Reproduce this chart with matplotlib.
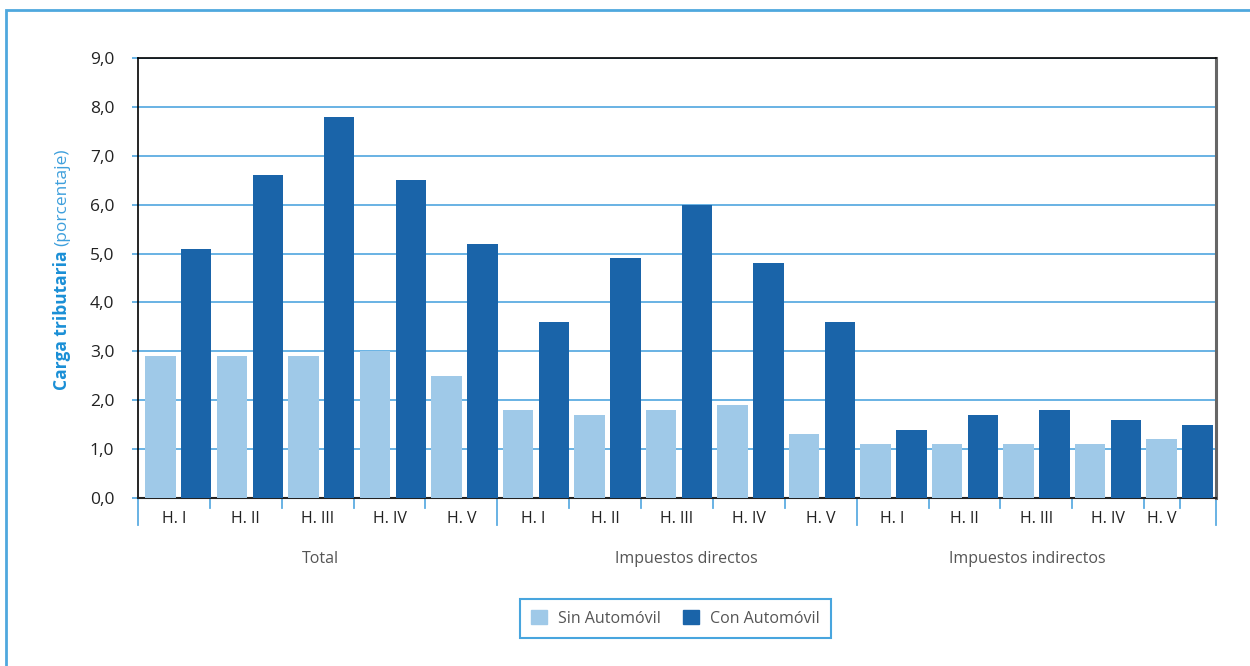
import matplotlib
matplotlib.use("Agg")

import numpy as np
import matplotlib.pyplot as plt
from matplotlib.patches import Rectangle, Patch

plt.rcParams['font.family'] = ['Open Sans', 'DejaVu Sans']

# datos
grupos = ['Total', 'Impuestos directos', 'Impuestos indirectos']
hogares = ['H. I', 'H. II', 'H. III', 'H. IV', 'H. V']
sin_auto = [2.9, 2.9, 2.9, 3.0, 2.5,
            1.8, 1.7, 1.8, 1.9, 1.3,
            1.1, 1.1, 1.1, 1.1, 1.2]
con_auto = [5.1, 6.6, 7.8, 6.5, 5.2,
            3.6, 4.9, 6.0, 4.8, 3.6,
            1.4, 1.7, 1.8, 1.6, 1.5]
y_ticks = [0, 1, 2, 3, 4, 5, 6, 7, 8, 9]

c_sin = '#9FC9E8'
c_con = '#1A64A9'
c_grid = '#5DADE2'
c_azul = '#1A8FD6'

fig = plt.figure(figsize=(12.5, 6.66), dpi=100)
ax = fig.add_axes([138 / 1250, 1 - 498 / 666, (1216 - 138) / 1250, (498 - 58) / 666])

# marco exterior
fig.patches.append(Rectangle((6 / 1250, -0.05), 1.1, 1 - 10 / 666 + 0.05,
                             transform=fig.transFigure, fill=False,
                             edgecolor='#4FA8DE', linewidth=2, zorder=0))

n = len(sin_auto)
x_sin = np.arange(n) * 2
x_con = x_sin + 1
ancho = 0.85
ax.bar(x_sin, sin_auto, width=ancho, color=c_sin, zorder=3)
ax.bar(x_con, con_auto, width=ancho, color=c_con, zorder=3)

ax.set_xlim(-0.63, 29.52)
ax.set_ylim(0, 9)
ax.set_yticks(y_ticks)
ax.set_yticklabels([f'{v:.1f}'.replace('.', ',') for v in y_ticks], fontsize=12.5, color='#222222')
ax.yaxis.grid(True, color=c_grid, linewidth=1.3, zorder=0)
ax.tick_params(axis='y', length=4, color=c_grid, width=1.3, pad=13)
ax.set_xticks([])

for lado in ['left', 'top']:
    ax.spines[lado].set_color('black')
    ax.spines[lado].set_linewidth(1.2)
ax.spines['bottom'].set_color('#222222')
ax.spines['bottom'].set_linewidth(1.5)
ax.spines['right'].set_color('#666666')
ax.spines['right'].set_linewidth(2.2)

# eje de categorias (dos niveles)
dy_corto = 10 / 440
dy_largo = 27 / 440
pos_ticks = [g / 15 for g in range(16)] + [14.5 / 15]
for i, p in enumerate(pos_ticks):
    largo = i in (0, 5, 10, 15)
    ax.plot([p, p], [0, -(dy_largo if largo else dy_corto)], transform=ax.transAxes,
            color=c_grid, linewidth=1.3, clip_on=False, zorder=1)

for g in range(15):
    centro = (g + 0.5) / 15 if g < 14 else 14.25 / 15
    ax.text(centro, -21 / 440, hogares[g % 5], transform=ax.transAxes,
            ha='center', va='center', fontsize=11.5, color='#222222')

pos_grupos = [(320 - 138) / 1078, (686 - 138) / 1078, (1027 - 138) / 1078]
for nombre, p in zip(grupos, pos_grupos):
    ax.text(p, -61 / 440, nombre, transform=ax.transAxes,
            ha='center', va='center', fontsize=11.5, color='#555555')

# titulo del eje y en dos partes
t1 = fig.text(62 / 1250, 1 - 390 / 666, 'Carga tributaria', rotation=90,
              rotation_mode='anchor', ha='left', va='center',
              fontsize=12.5, fontweight='bold', color=c_azul)
fig.canvas.draw()
bb = t1.get_window_extent(fig.canvas.get_renderer())
t2 = fig.text(62 / 1250, (bb.y1 + 5) / fig.bbox.height, '(porcentaje)', rotation=90,
              rotation_mode='anchor', ha='left', va='center',
              fontsize=12.5, color='#3D9FDC')

# leyenda
handles = [Patch(color=c_sin, label='Sin Automóvil'),
           Patch(color=c_con, label='Con Automóvil')]
leg = fig.legend(handles=handles, loc='center', bbox_to_anchor=(675.5 / 1250, 1 - 618.5 / 666),
                 ncol=2, frameon=True, fancybox=False, fontsize=11.5,
                 handlelength=1.0, handleheight=1.0, columnspacing=1.4,
                 handletextpad=0.7, borderpad=0.7, labelcolor='#555555')
leg.get_frame().set_edgecolor(c_azul)
leg.get_frame().set_linewidth(1.5)

fig.savefig('out.png', dpi=100)
